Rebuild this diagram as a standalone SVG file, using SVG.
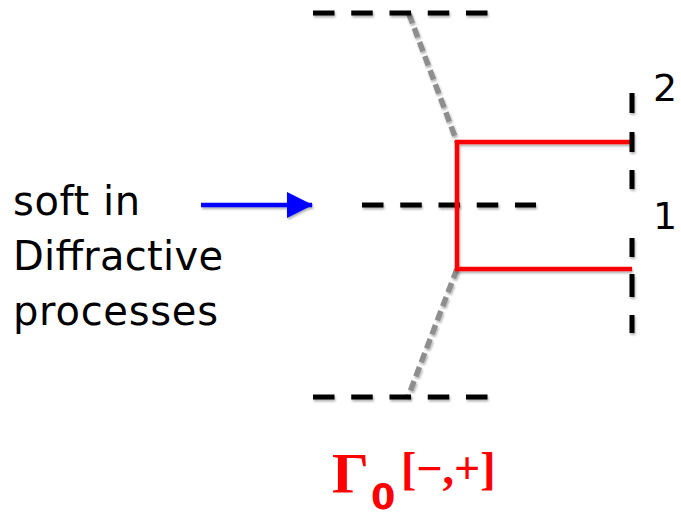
<svg xmlns="http://www.w3.org/2000/svg" width="681" height="518" viewBox="0 0 681 518">
<defs>
<filter id="sh" filterUnits="userSpaceOnUse" x="0" y="0" width="681" height="518">
<feDropShadow dx="1" dy="2" stdDeviation="1.2" flood-color="#000" flood-opacity="0.3"/>
</filter>
<marker id="ah" markerUnits="userSpaceOnUse" markerWidth="26" markerHeight="28" refX="25" refY="13" orient="auto">
<path d="M0,0 L26,13 L0,26 Z" fill="#0000ff"/>
</marker>
</defs>
<style>
.bd{stroke:#000;stroke-width:5;fill:none;stroke-dasharray:21.5 16.75}
.vd{stroke:#000;stroke-width:5;fill:none}
.gd{stroke:#8e8e8e;stroke-width:5.5;fill:none;stroke-dasharray:10 5}
.red{stroke:#ff0000;stroke-width:4.5;fill:none}
.lbl{font-family:"DejaVu Sans",Verdana,sans-serif;font-size:40px;fill:#000}
.num{font-family:"DejaVu Sans",Verdana,sans-serif;font-size:38px;fill:#000}
</style>
<g id="connectors" filter="url(#sh)">
<line class="gd" x1="409" y1="14" x2="457" y2="142"/>
<line class="gd" x1="457" y1="269" x2="408" y2="397"/>
<line x1="201" y1="205" x2="312" y2="205" stroke="#0000ff" stroke-width="4.5" marker-end="url(#ah)"/>
</g>
<g id="top-line" filter="url(#sh)">
<line class="bd" x1="313" y1="13" x2="488" y2="13"/>
</g>
<g id="middle-line" filter="url(#sh)">
<line class="bd" x1="362" y1="205" x2="536" y2="205"/>
</g>
<g id="bottom-line" filter="url(#sh)">
<line class="bd" x1="313" y1="397" x2="488" y2="397"/>
</g>
<g id="red-bracket" filter="url(#sh)">
<path class="red" d="M632,142 H457 V269 H632"/>
</g>
<g id="right-cut" filter="url(#sh)">
<path class="vd" d="M632,93 V113 M632,132 V152 M632,170 V189 M632,238 V257 M632,274 V297 M632,315 V333"/>
</g>
<g id="labels">
<text class="num" x="653" y="101">2</text>
<text class="num" x="653" y="229">1</text>
<text class="lbl" x="13" y="215" textLength="127" lengthAdjust="spacing">soft in</text>
<text class="lbl" x="13" y="270" textLength="210" lengthAdjust="spacing">Diffractive</text>
<text class="lbl" x="13" y="325" textLength="205" lengthAdjust="spacing">processes</text>
</g>
<g id="gamma-label" fill="#ff0000">
<text x="332" y="493" font-family="'Liberation Serif','Times New Roman',serif" font-weight="bold" font-size="58">Γ</text>
<text x="371" y="509" font-family="'DejaVu Sans',Verdana,sans-serif" font-weight="bold" font-size="35">0</text>
<text x="401" y="484" font-family="'Liberation Serif','Times New Roman',serif" font-weight="bold" font-size="46">[−,+]</text>
</g>
</svg>
